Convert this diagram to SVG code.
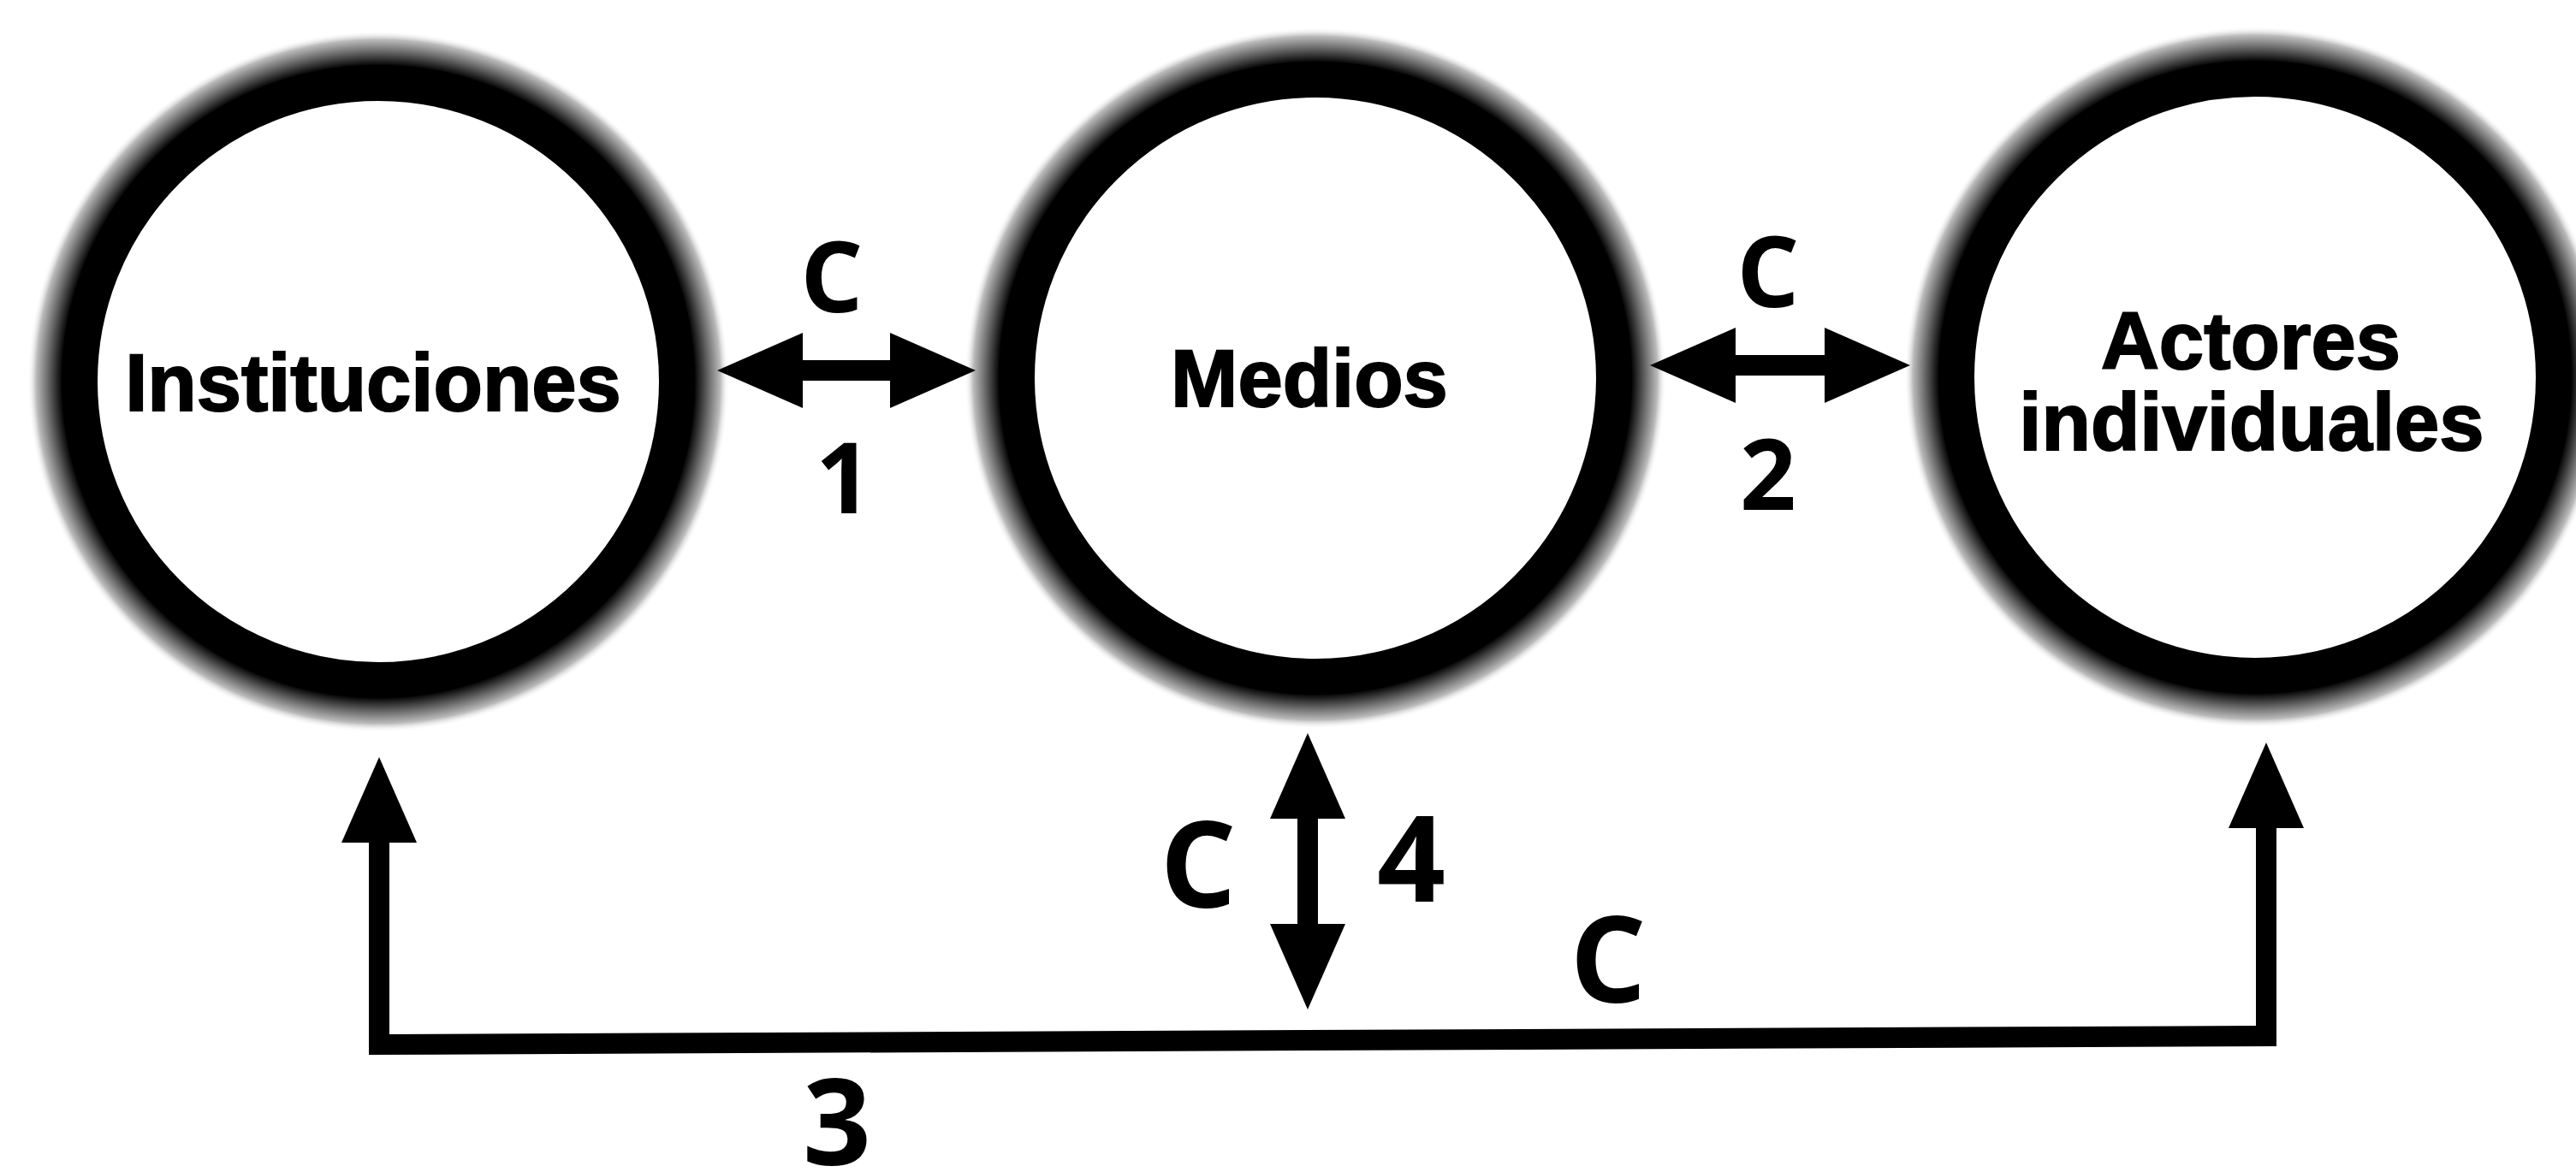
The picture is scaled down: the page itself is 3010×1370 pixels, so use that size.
<svg xmlns="http://www.w3.org/2000/svg" width="3010" height="1370" viewBox="0 0 3010 1370">
<defs>
<radialGradient id="halo" cx="0.5" cy="0.5" r="0.5">
<stop offset="0" stop-color="#000"/>
<stop offset="0.9" stop-color="#000"/>
<stop offset="0.94" stop-color="#666"/>
<stop offset="0.975" stop-color="#bbb"/>
<stop offset="1" stop-color="#fff" stop-opacity="0"/>
</radialGradient>
</defs>
<style>
.halo{fill:url(#halo)}
.ring{fill:#fff;stroke:#000;stroke-width:42}
.node{font-family:"Liberation Sans",Arial,sans-serif;font-weight:bold;font-size:94px;fill:#000;stroke:#000;stroke-width:2;text-anchor:middle}
.lbl{font-family:"Open Sans","Noto Sans",sans-serif;font-weight:bold;font-size:140px;fill:#000;text-anchor:middle}
.lbl.sm{font-size:115px}
.conn{fill:#000;stroke:none}
</style>
<rect width="3010" height="1370" fill="#fff"/>
<g id="node-instituciones">
<circle class="halo" cx="442" cy="446" r="410"/>
<circle class="ring" cx="442" cy="446" r="349"/>
<text class="node" x="436" y="480">Instituciones</text>
</g>
<g id="node-medios">
<circle class="halo" cx="1537" cy="442" r="410"/>
<circle class="ring" cx="1537" cy="442" r="349"/>
<text class="node" x="1530" y="475">Medios</text>
</g>
<g id="node-actores">
<circle class="halo" cx="2635" cy="441" r="410"/>
<circle class="ring" cx="2635" cy="441" r="349"/>
<text class="node" x="2630" y="431">Actores</text>
<text class="node" x="2631" y="526">individuales</text>
</g>
<g id="connectors">
<path id="c1" class="conn" d="M838,433 L938,389 L938,421 L1040,421 L1040,389 L1140,433 L1040,477 L1040,445 L938,445 L938,477 Z"/>
<path id="c2" class="conn" d="M1928,427 L2028,383 L2028,415 L2132,415 L2132,383 L2232,427 L2132,471 L2132,439 L2028,439 L2028,471 Z"/>
<path id="c4" class="conn" d="M1528,857 L1572,957 L1540,957 L1540,1080 L1572,1080 L1528,1180 L1484,1080 L1516,1080 L1516,957 L1484,957 Z"/>
<path id="c3" class="conn" d="M443,885 L487,985 L455,985 L455,1209 L2636,1199 L2636,968 L2604,968 L2648,868 L2692,968 L2660,968 L2660,1223 L431,1233 L431,985 L399,985 Z"/>
</g>
<g id="labels">
<text class="lbl sm" x="972" y="365">C</text>
<text class="lbl sm" x="986" y="600">1</text>
<text class="lbl sm" x="2066" y="359">C</text>
<text class="lbl sm" x="2066" y="596">2</text>
<text class="lbl" x="1400" y="1061">C</text>
<text class="lbl" x="1649" y="1054">4</text>
<text class="lbl" x="1879" y="1172">C</text>
<text class="lbl" x="978" y="1362">3</text>
</g>
</svg>
